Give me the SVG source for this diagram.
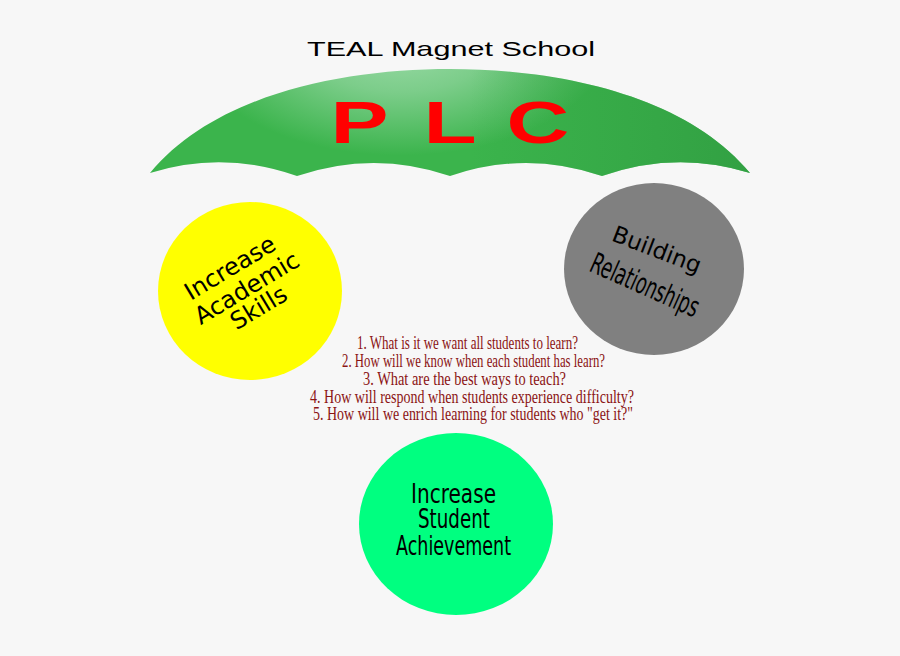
<svg xmlns="http://www.w3.org/2000/svg" width="900" height="656" viewBox="0 0 900 656">
<defs>
<radialGradient id="umb" gradientUnits="userSpaceOnUse" cx="400" cy="40" r="210" gradientTransform="translate(0,18) scale(1,0.55)">
<stop offset="0" stop-color="#9edcaa"/>
<stop offset="0.45" stop-color="#7ccd8a"/>
<stop offset="1" stop-color="#3bb44c"/>
</radialGradient>
<linearGradient id="shade" gradientUnits="userSpaceOnUse" x1="470" y1="0" x2="750" y2="0">
<stop offset="0" stop-color="#2f9a40" stop-opacity="0"/>
<stop offset="1" stop-color="#2f9a40" stop-opacity="0.75"/>
</linearGradient>
<style>
.q{font-family:"Liberation Serif","Times New Roman",serif;font-size:18px;fill:#8b1414;text-anchor:middle}
.n{font-family:"DejaVu Sans",sans-serif;fill:#000;text-anchor:middle}
.plc{font-family:"Liberation Sans",Arial,sans-serif;font-weight:bold;font-size:60px;fill:#ff0000;text-anchor:middle}
</style>
</defs>
<rect width="900" height="656" fill="#f7f7f7"/>
<g id="title">
<text x="307" y="56" font-family="Liberation Sans, Arial, sans-serif" font-size="21" textLength="288" lengthAdjust="spacingAndGlyphs" fill="#000">TEAL Magnet School</text>
</g>
<g id="umbrella">
<path d="M150,173 C215,95 340,69 450,69 C570,69 690,100 750,173 Q676,150 602,176 Q526,150 450,176 Q374,150 297,176 Q223,150 150,173 Z" fill="url(#umb)"/>
<path d="M150,173 C215,95 340,69 450,69 C570,69 690,100 750,173 Q676,150 602,176 Q526,150 450,176 Q374,150 297,176 Q223,150 150,173 Z" fill="url(#shade)"/>
<text class="plc" transform="translate(359.5,143) scale(1.45,1)">P</text>
<text class="plc" transform="translate(450,143) scale(1.45,1)">L</text>
<text class="plc" transform="translate(538,143) scale(1.45,1)">C</text>
</g>
<g id="academic">
<ellipse cx="250" cy="291" rx="92" ry="89" fill="#ffff00"/>
<g transform="translate(251,295) rotate(-31)">
<text class="n" font-size="24" x="-4" y="-26">Increase</text>
<text class="n" font-size="24" x="0" y="0">Academic</text>
<text class="n" font-size="24" x="0" y="23">Skills</text>
</g>
</g>
<g id="relationships">
<ellipse cx="654" cy="269" rx="90" ry="86" fill="#808080"/>
<text class="n" font-size="23" transform="translate(654,257) rotate(21)">Building</text>
<text class="n" font-size="29" textLength="116" lengthAdjust="spacingAndGlyphs" transform="translate(641,294) rotate(24)">Relationships</text>
</g>
<g id="questions">
<text class="q" x="467.5" y="349" textLength="221" lengthAdjust="spacingAndGlyphs">1. What is it we want all students to learn?</text>
<text class="q" x="473.5" y="367" textLength="263" lengthAdjust="spacingAndGlyphs">2. How will we know when each student has learn?</text>
<text class="q" x="464.5" y="385" textLength="203" lengthAdjust="spacingAndGlyphs" font-size="19">3. What are the best ways to teach?</text>
<text class="q" x="472" y="403" textLength="324" lengthAdjust="spacingAndGlyphs">4. How will respond when students experience difficulty?</text>
<text class="q" x="473" y="420" textLength="320" lengthAdjust="spacingAndGlyphs">5. How will we enrich learning for students who "get it?"</text>
</g>
<g id="achievement">
<ellipse cx="456" cy="524" rx="97" ry="91" fill="#00ff80"/>
<text class="n" font-size="26" x="453.5" y="503" textLength="85" lengthAdjust="spacingAndGlyphs">Increase</text>
<text class="n" font-size="26" x="454" y="528" textLength="72" lengthAdjust="spacingAndGlyphs">Student</text>
<text class="n" font-size="26" x="453.5" y="555" textLength="115" lengthAdjust="spacingAndGlyphs">Achievement</text>
</g>
<g id="connectors"></g>
</svg>
